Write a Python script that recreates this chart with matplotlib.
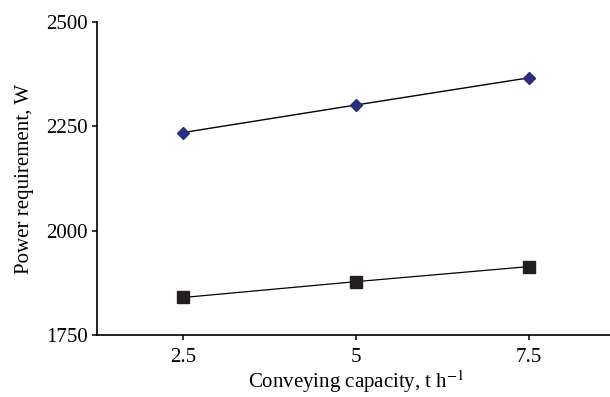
import matplotlib
matplotlib.use("Agg")
import matplotlib.pyplot as plt

plt.rcParams["font.family"] = "Liberation Serif"
plt.rcParams["mathtext.fontset"] = "stix"

capacity = [2.5, 5, 7.5]
power_upper = [2235, 2301, 2366]
power_lower = [1840, 1878, 1914]

fig = plt.figure(figsize=(6.1, 3.97), dpi=100)
ax = fig.add_axes([0.159, 0.156, 0.85, 0.789])

# two series, thin black connecting lines
ax.plot(capacity, power_upper, color="black", lw=1.0, marker="D", ms=6.5,
        markerfacecolor="#2b2e7c", markeredgecolor="#2b2e7c", zorder=3)
ax.plot(capacity, power_lower, color="black", lw=0.9, marker="s", ms=8,
        markerfacecolor="#231f20", markeredgecolor="#231f20", zorder=3)

ax.set_xlim(1.25, 8.75)
ax.set_ylim(1750, 2500)
ax.set_xticks(capacity)
ax.set_xticklabels(["2.5", "5", "7.5"])
ax.set_yticks([1750, 2000, 2250, 2500])

for s in ["top", "right"]:
    ax.spines[s].set_visible(False)
for s in ["left", "bottom"]:
    ax.spines[s].set_linewidth(1.2)
ax.tick_params(direction="out", length=3.5, width=1.1, labelsize=15, pad=3)
ax.tick_params(axis="x", pad=6)

ax.set_xlabel(r"Conveying capacity, t h$^{-1}$", fontsize=15, labelpad=0)
ax.xaxis.label.set_va("center")
ax.xaxis.set_label_coords(0.5, -0.15)
ax.set_ylabel("Power requirement, W", fontsize=15, labelpad=9)

plt.savefig("out.png", dpi=100)
